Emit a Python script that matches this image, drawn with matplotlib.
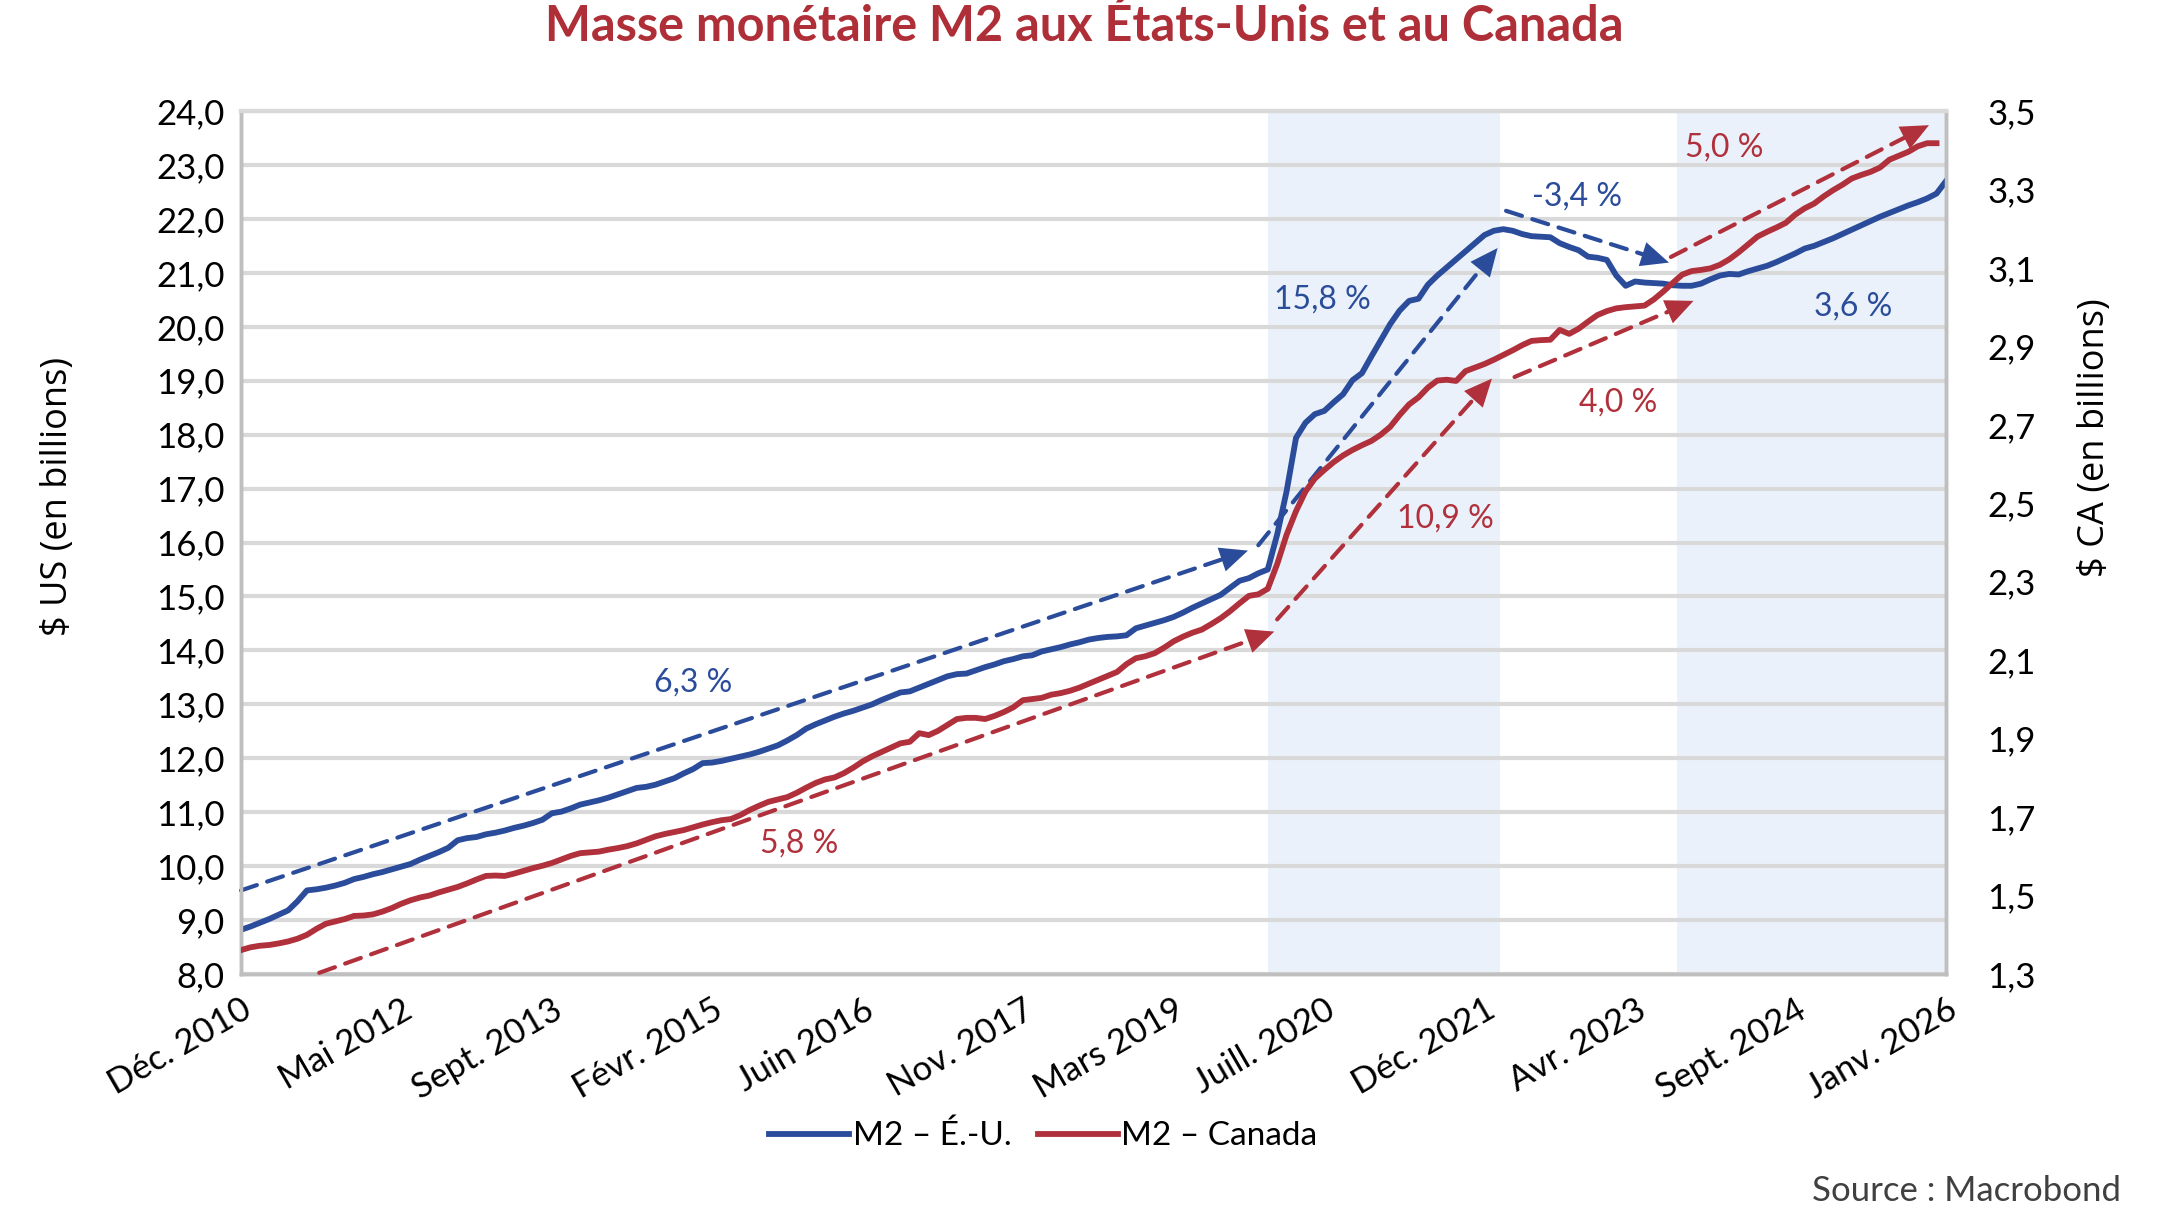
import numpy as np
import matplotlib
matplotlib.use("Agg")
import matplotlib.pyplot as plt
from matplotlib.ticker import FuncFormatter, MultipleLocator

plt.rcParams['font.family'] = ['Lato', 'DejaVu Sans']

# M2 É.-U. (billions $ US), mensuel, déc. 2010 -> janv. 2026
us_m2 = [
    8.82, 8.88, 8.95, 9.02, 9.10, 9.18, 9.35, 9.55, 9.57, 9.60, 9.64, 9.69,
    9.76, 9.80, 9.85, 9.89, 9.94, 9.99, 10.04, 10.12, 10.19, 10.26, 10.34, 10.48,
    10.52, 10.54, 10.59, 10.62, 10.66, 10.71, 10.75, 10.80, 10.86, 10.98, 11.01, 11.07,
    11.14, 11.18, 11.22, 11.27, 11.33, 11.39, 11.45, 11.47, 11.51, 11.57, 11.63, 11.72,
    11.80, 11.91, 11.92, 11.95, 11.99, 12.03, 12.07, 12.12, 12.18, 12.24, 12.33, 12.43,
    12.55, 12.63, 12.70, 12.77, 12.83, 12.88, 12.94, 13.00, 13.08, 13.15, 13.22, 13.24,
    13.31, 13.38, 13.45, 13.52, 13.56, 13.57, 13.63, 13.69, 13.74, 13.80, 13.84, 13.89,
    13.91, 13.98, 14.02, 14.06, 14.11, 14.15, 14.20, 14.23, 14.25, 14.26, 14.28, 14.41,
    14.46, 14.51, 14.56, 14.62, 14.70, 14.79, 14.87, 14.95, 15.03, 15.16, 15.29, 15.34,
    15.43, 15.50, 16.15, 16.95, 17.94, 18.22, 18.38, 18.44, 18.60, 18.75, 19.01, 19.14,
    19.45, 19.75, 20.05, 20.30, 20.48, 20.52, 20.78, 20.95, 21.10, 21.25, 21.40, 21.55,
    21.70, 21.78, 21.81, 21.78, 21.72, 21.68, 21.67, 21.66, 21.55, 21.48, 21.42, 21.30,
    21.28, 21.24, 20.95, 20.76, 20.84, 20.82, 20.81, 20.80, 20.77, 20.76, 20.76, 20.80,
    20.88, 20.95, 20.98, 20.97, 21.03, 21.08, 21.13, 21.20, 21.28, 21.36, 21.45, 21.50,
    21.57, 21.64, 21.72, 21.80, 21.88, 21.96, 22.04, 22.11, 22.18, 22.25, 22.31, 22.38,
    22.47, 22.70,
]

# M2 Canada (billions $ CA), mensuel, déc. 2010 -> déc. 2025
ca_m2 = [
    1.361, 1.368, 1.372, 1.374, 1.378, 1.383, 1.390, 1.400, 1.415, 1.428, 1.434, 1.440,
    1.448, 1.449, 1.452, 1.459, 1.468, 1.479, 1.488, 1.495, 1.500, 1.508, 1.515, 1.522,
    1.531, 1.541, 1.550, 1.551, 1.550, 1.556, 1.563, 1.570, 1.576, 1.583, 1.592, 1.601,
    1.608, 1.610, 1.612, 1.617, 1.621, 1.626, 1.633, 1.642, 1.651, 1.657, 1.662, 1.667,
    1.674, 1.681, 1.687, 1.692, 1.695, 1.705, 1.718, 1.729, 1.739, 1.745, 1.751, 1.762,
    1.775, 1.787, 1.796, 1.801, 1.812, 1.826, 1.842, 1.855, 1.866, 1.877, 1.888, 1.892,
    1.914, 1.909, 1.920, 1.935, 1.950, 1.953, 1.953, 1.950, 1.958, 1.968, 1.980, 1.998,
    2.001, 2.004, 2.012, 2.016, 2.022, 2.030, 2.040, 2.050, 2.060, 2.070, 2.090, 2.105,
    2.110, 2.118, 2.132, 2.148, 2.160, 2.170, 2.178, 2.192, 2.207, 2.225, 2.245, 2.264,
    2.268, 2.282, 2.345, 2.420, 2.480, 2.530, 2.563, 2.585, 2.605, 2.622, 2.636, 2.648,
    2.659, 2.675, 2.695, 2.725, 2.752, 2.770, 2.795, 2.813, 2.815, 2.812, 2.837, 2.846,
    2.855, 2.866, 2.878, 2.890, 2.903, 2.914, 2.916, 2.917, 2.942, 2.932, 2.945, 2.963,
    2.980, 2.990, 2.997, 3.000, 3.002, 3.004, 3.020, 3.040, 3.062, 3.083, 3.092, 3.095,
    3.099, 3.108, 3.122, 3.140, 3.160, 3.180, 3.192, 3.203, 3.215, 3.236, 3.252, 3.264,
    3.282, 3.298, 3.312, 3.328, 3.337, 3.345, 3.356, 3.376, 3.386, 3.396, 3.410, 3.418,
    3.418,
]

tick_months = [0, 17, 33, 50, 66, 83, 99, 115, 132, 148, 165, 181]
tick_labels = ["Déc. 2010", "Mai 2012", "Sept. 2013", "Févr. 2015", "Juin 2016",
               "Nov. 2017", "Mars 2019", "Juill. 2020", "Déc. 2021", "Avr. 2023",
               "Sept. 2024", "Janv. 2026"]

# zones ombrées (en mois depuis déc. 2010)
shaded = [(109, 133.7), (152.4, 181)]

# tendances : (début, fin, texte, position du texte) -- É.-U. sur l'axe gauche
us_trends = [
    ((0, 9.55), (106.9, 15.85), "6,3 %", (48.0, 13.40)),
    ((108, 15.95), (133.4, 21.46), "15,8 %", (114.8, 20.51)),
    ((134.3, 22.15), (151.6, 21.19), "-3,4 %", (141.8, 22.41)),
    ((155, 20.07), (181.4, 22.26), "3,6 %", (171.1, 20.38)),
]
# Canada sur l'axe droit, texte placé en coordonnées de l'axe gauche
ca_trends = [
    ((8.3, 1.303), (109.7, 2.173), "5,8 %", (59.2, 10.41)),
    ((110, 2.204), (132.8, 2.818), "10,9 %", (127.9, 16.45)),
    ((135.2, 2.822), (154.2, 3.016), "4,0 %", (146.2, 18.59)),
    ((151.8, 3.128), (179.2, 3.464), "5,0 %", (157.5, 23.33)),
]

blue = '#2A4C9A'
red = '#B0303B'
grid_c = '#D9D9D9'

fig = plt.figure(figsize=(21.6, 12.23), dpi=100)
ax = fig.add_axes([0.1116, 0.2036, 0.7893, 0.7056])
ax2 = ax.twinx()

for a, b in shaded:
    ax.axvspan(a, b, color='#EAF1FA', zorder=0, lw=0)

ax.set_axisbelow(True)
ax.yaxis.grid(True, color=grid_c, lw=3)

x_us = np.arange(len(us_m2))
x_ca = np.arange(len(ca_m2))
ax.plot(x_us, us_m2, color=blue, lw=4.2, zorder=3, solid_joinstyle='round')
ax2.plot(x_ca, ca_m2, color=red, lw=4.2, zorder=3, solid_joinstyle='round')


def trend(axis, p0, p1, color):
    axis.annotate('', xy=p1, xytext=p0,
                  arrowprops=dict(arrowstyle='-', color=color, lw=3,
                                  ls=(0, (4, 2.6)), shrinkA=0, shrinkB=14))
    axis.annotate('', xy=p1, xytext=p0,
                  arrowprops=dict(arrowstyle='-|>,head_length=1.0,head_width=0.45',
                                  mutation_scale=20, color=color, lw=0,
                                  shrinkA=0, shrinkB=0))


for p0, p1, txt, pos in us_trends:
    trend(ax, p0, p1, blue)
    ax.text(pos[0], pos[1], txt, color=blue, fontsize=23, ha='center', va='center', zorder=5)
for p0, p1, txt, pos in ca_trends:
    trend(ax2, p0, p1, red)
    ax.text(pos[0], pos[1], txt, color=red, fontsize=23, ha='center', va='center', zorder=5)

fmt = FuncFormatter(lambda v, p: f"{v:.1f}".replace('.', ','))
ax.set_xlim(0, 181)
ax.set_ylim(8, 24)
ax.yaxis.set_major_locator(MultipleLocator(1))
ax.yaxis.set_major_formatter(fmt)
ax2.set_ylim(1.3, 3.5)
ax2.set_yticks(np.arange(1.3, 3.51, 0.2))
ax2.yaxis.set_major_formatter(fmt)

ax.set_xticks(tick_months)
ax.set_xticklabels(tick_labels, rotation=30, ha='right', va='top', rotation_mode='anchor')
ax.tick_params(axis='x', length=0, pad=14, labelsize=25)
ax.tick_params(axis='y', length=0, pad=12, labelsize=25)
ax2.tick_params(axis='y', length=0, pad=30, labelsize=25)

for a in (ax, ax2):
    for s in a.spines.values():
        s.set_color('#BFBFBF')
        s.set_linewidth(2.5)
    a.spines['top'].set_color(grid_c)
    a.spines['top'].set_linewidth(3)

fig.text(0.502, 0.979, "Masse monétaire M2 aux États-Unis et au Canada", ha='center', va='center',
         fontsize=35, fontweight='bold', color='#AE2F37')
fig.text(0.027, 0.594, "$ US (en billions)", rotation=90, ha='center', va='center',
         fontsize=26, family='Open Sans')
fig.text(0.970, 0.642, "$ CA (en billions)", rotation=90, ha='center', va='center',
         fontsize=26, family='Open Sans')

h1, = ax.plot([], [], color=blue, lw=4.2)
h2, = ax.plot([], [], color=red, lw=4.2)
fig.legend([h1, h2], ["M2 – É.-U.", "M2 – Canada"], loc='center', bbox_to_anchor=(0.483, 0.071),
           ncol=2, frameon=False, fontsize=24, handlelength=2.4, handletextpad=0.1,
           columnspacing=0.8)

fig.text(0.982, 0.026, "Source : Macrobond", ha='right', va='center', fontsize=25, color='#404040')

fig.savefig("out.png", dpi=100)
